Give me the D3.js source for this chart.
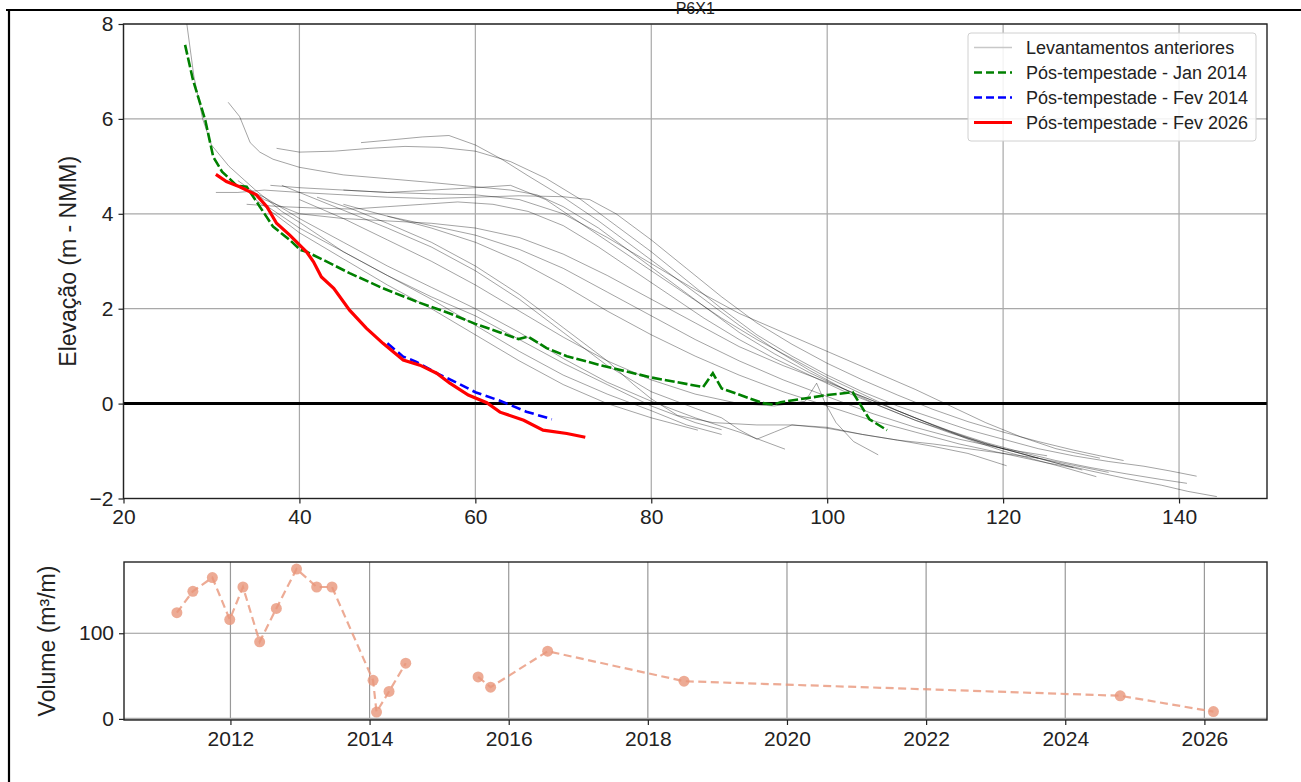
<!DOCTYPE html>
<html><head><meta charset="utf-8">
<script src="https://cdn.jsdelivr.net/npm/d3@7"></script>
<style>body{margin:0;background:#fff} text{font-family:"Liberation Sans",Arial,sans-serif;fill:#222}</style>
</head><body><svg id="c" width="1301" height="782"></svg>
<script>
// ---------- DATA ----------
const chartTitle = "P6X1";
const xTicksTop = [20, 40, 60, 80, 100, 120, 140];
const yTicksTop = [-2, 0, 2, 4, 6, 8];
const yLabelTop = "Elevação (m - NMM)";

// previous surveys (distance m, elevation m)
const prevProfiles = [
  [[47,5.5],[50,5.55],[54,5.62],[57,5.65],[60,5.45],[63,5.15],[66,4.8],[70,4.35],[74,3.85],[78,3.3],[82,2.75],[86,2.2],[90,1.65],[94,1.15],[98,0.7],[102,0.3],[106,-0.05],[110,-0.35],[114,-0.62],[118,-0.85],[122,-1.05],[126,-1.25],[130,-1.42],[134,-1.58],[138,-1.72],[141,-1.85],[144.3,-1.96]],
  [[37.4,5.38],[40,5.3],[44,5.32],[48,5.38],[52,5.42],[56,5.4],[60,5.32],[64,5.1],[68,4.75],[72,4.3],[76,3.75],[80,3.2],[84,2.6],[88,2.0],[92,1.45],[96,1.0],[100,0.6],[104,0.25],[108,-0.05],[112,-0.3],[116,-0.55],[120,-0.75],[124,-0.95],[128,-1.1],[132,-1.22],[136,-1.32],[139,-1.42],[142,-1.53]],
  [[31.9,6.35],[33.2,6.05],[34.4,5.5],[35.5,5.3],[37,5.15],[40,4.98],[45,4.82],[50,4.74],[55,4.66],[60,4.57],[64,4.5],[67,4.4],[70,4.15],[74,3.7],[78,3.15],[82,2.6],[86,2.05],[90,1.5],[94,1.05],[98,0.65],[102,0.3],[106,0.0],[110,-0.3],[114,-0.58],[118,-0.82],[122,-1.02],[126,-1.2],[130,-1.35],[134,-1.48],[138,-1.6],[140.9,-1.68]],
  [[30.5,4.45],[33,4.45],[36,4.5],[40,4.45],[45,4.4],[50,4.35],[55,4.32],[60,4.35],[65,4.38],[70,4.36],[73,4.3],[76,4.0],[80,3.45],[84,2.85],[88,2.25],[92,1.7],[96,1.25],[100,0.85],[104,0.5],[108,0.18],[112,-0.12],[116,-0.38],[120,-0.6],[124,-0.8],[128,-0.98],[131,-1.1],[133.7,-1.2]],
  [[36.7,4.6],[40,4.55],[45,4.5],[50,4.45],[55,4.5],[60,4.55],[64,4.6],[68,4.3],[72,3.8],[76,3.3],[80,2.8],[84,2.3],[88,1.8],[92,1.35],[96,0.95],[100,0.55],[104,0.2],[108,-0.15],[112,-0.45],[116,-0.75],[120,-1.0],[124,-1.2],[127,-1.35],[130.6,-1.54]],
  [[34,4.2],[38,4.15],[42,4.12],[46,4.1],[50,4.15],[54,4.2],[58,4.25],[62,4.2],[66,4.05],[70,3.75],[74,3.3],[78,2.8],[82,2.3],[86,1.8],[90,1.35],[94,0.95],[98,0.6],[102,0.25],[106,-0.05],[110,-0.35],[114,-0.6],[118,-0.85],[122,-1.05],[126,-1.25],[129,-1.4]],
  [[33,4.7],[36,4.3],[40,4.0],[45,3.9],[50,3.85],[55,3.8],[60,3.7],[65,3.5],[70,3.15],[75,2.7],[80,2.2],[85,1.7],[90,1.2],[95,0.8],[100,0.45],[104,0.15],[108,-0.15],[112,-0.45],[116,-0.72],[120,-0.95],[124,-1.15],[128,-1.3],[132,-1.45]],
  [[45,4.5],[50,4.45],[55,4.42],[60,4.4],[65,4.3],[70,4.0],[75,3.5],[80,2.95],[85,2.4],[90,1.9],[95,1.5],[100,1.1],[105,0.7],[110,0.3],[114,-0.05],[118,-0.4],[122,-0.7],[126,-0.95],[131,-1.15]],
  [[27.2,8.0],[28,6.9],[29,6.0],[30,5.45],[32,5.0],[35,4.5],[38,4.05],[40,3.82],[45,3.2],[50,2.7],[55,2.2],[60,1.65],[65,1.1],[70,0.6],[75,0.2],[80,-0.15],[84,-0.45],[88,-0.65]],
  [[33,4.6],[36,4.35],[40,3.9],[45,3.4],[50,2.9],[55,2.45],[60,2.0],[65,1.5],[70,0.95],[75,0.45],[80,0.05],[85,-0.3],[90,-0.6],[95.2,-0.96]],
  [[35,4.3],[40,3.6],[45,3.05],[50,2.5],[55,2.0],[60,1.45],[65,0.9],[70,0.4],[75,0.0],[80,-0.3],[85.3,-0.56]],
  [[38,4.6],[42,4.3],[46,4.0],[50,3.7],[55,3.3],[60,2.8],[65,2.2],[70,1.5],[75,0.8],[80,0.25],[85,-0.1],[88,-0.3],[90,-0.55],[92,-0.75],[94,-0.6],[96,-0.45],[100,-0.5],[104,-0.65],[108,-0.77],[112,-0.9],[116,-1.05],[120.4,-1.31]],
  [[40,4.3],[45,3.9],[50,3.45],[55,3.0],[60,2.5],[65,1.95],[70,1.4],[75,0.9],[80,0.5],[85,0.2],[90,0.0],[94,-0.05],[97.5,0.05],[98.8,0.43],[99.8,0.0],[101,-0.4],[103,-0.8],[105.8,-1.08]],
  [[36,4.2],[40,3.7],[45,3.2],[50,2.7],[55,2.25],[60,1.85],[65,1.35],[70,0.85],[75,0.4],[80,-0.05],[85,-0.4],[88,-0.55]],
  [[42,4.35],[46,4.1],[50,3.8],[55,3.4],[60,2.9],[65,2.3],[70,1.6],[75,0.9],[78,0.4],[80,0.1],[83,-0.25],[87,-0.4],[92,-0.45],[96,-0.45],[100,-0.52],[104,-0.65],[108,-0.77],[112,-0.85],[116,-0.95],[120,-1.05],[124,-1.15]],
  [[45,4.2],[50,3.95],[55,3.7],[60,3.4],[65,3.0],[70,2.5],[75,1.95],[80,1.45],[85,1.0],[90,0.6],[95,0.25],[100,-0.05],[105,-0.35],[110,-0.6],[115,-0.85],[120,-1.05],[125,-1.25],[128,-1.35]],
  [[50,3.95],[55,3.75],[60,3.55],[65,3.25],[70,2.85],[75,2.35],[80,1.85],[85,1.35],[90,0.9],[95,0.5],[100,0.15],[105,-0.2],[110,-0.5],[115,-0.75],[120,-0.95],[125,-1.1]]
];

const jan2014 = [[27,7.56],[27.9,6.82],[29.3,5.97],[30.2,5.2],[31.2,4.89],[32.9,4.59],[34.0,4.57],[35.5,4.15],[37.0,3.73],[38.9,3.45],[40.1,3.24],[40.8,3.2],[42.7,3.03],[45.7,2.75],[49.5,2.43],[53.3,2.15],[57.1,1.9],[60,1.68],[62.8,1.5],[64.9,1.36],[66,1.41],[68.1,1.17],[70.4,1.0],[74.2,0.81],[80,0.55],[85.9,0.35],[87,0.64],[88,0.32],[92.7,0.01],[93.9,-0.02],[94.7,0.03],[100,0.18],[102.9,0.24],[104.8,-0.33],[106.8,-0.56]];
const fev2014 = [[50,1.27],[51.8,0.99],[53.3,0.88],[55.6,0.64],[57.9,0.44],[60,0.24],[62.8,0.06],[65.8,-0.17],[68.7,-0.33]];
const fev2026 = [[30.5,4.83],[31.7,4.68],[33.2,4.57],[35.1,4.4],[36.3,4.15],[37.4,3.8],[38.9,3.55],[40.8,3.2],[41.6,2.99],[42.5,2.67],[43.9,2.43],[45.7,1.97],[47.6,1.59],[49.5,1.27],[51.8,0.92],[53.7,0.81],[55.6,0.64],[57.1,0.43],[59.2,0.18],[61.3,0.02],[62.8,-0.18],[65.5,-0.35],[67.7,-0.56],[70.4,-0.63],[72.5,-0.71]];

const legendLabels = ["Levantamentos anteriores","Pós-tempestade - Jan 2014","Pós-tempestade - Fev 2014","Pós-tempestade - Fev 2026"];

// volume time series (decimal year, m3/m); null = gap
const volDates  = [2011.23,2011.46,2011.74,2011.99,2012.18,2012.42,2012.66,2012.95,2013.24,2013.46,2014.05,2014.10,2014.28,2014.52,2015.0,2015.56,2015.74,2016.56,2018.52,2024.79,2026.13];
const volValues = [124,149,165,116,154,90,129,175,154,154,45,8,32,65,null,49,37,79,44,27,8.5];
const xTicksBottom = [2012,2014,2016,2018,2020,2022,2024,2026];
const yTicksBottom = [0,100];
const yLabelBottom = "Volume (m³/m)";

// ---------- DRAW ----------
const svg = d3.select("#c");
svg.append("rect").attr("width",1301).attr("height",782).attr("fill","#fff");

const TL=123.5, TR=1267, TT=24, TB=498.5;
const BL=124, BR=1267, BT=562, BB=720;
const FS = 21;

const x1 = d3.scaleLinear().domain([20,150]).range([TL,TR]);
const y1 = d3.scaleLinear().domain([-2,8]).range([TB,TT]);
const x2 = d3.scaleLinear().domain([2010.47,2026.9]).range([BL,BR]);
const y2 = d3.scaleLinear().domain([-1.3,183.2]).range([BB,BT]);

const gridCol = "#a8a8a8";
// top grid
const gTop = svg.append("g");
gTop.selectAll("line.vx").data(xTicksTop).join("line")
  .attr("x1",d=>x1(d)).attr("x2",d=>x1(d)).attr("y1",TT).attr("y2",TB)
  .attr("stroke",gridCol).attr("stroke-width",1.2);
gTop.selectAll("line.hy").data(yTicksTop).join("line")
  .attr("y1",d=>y1(d)).attr("y2",d=>y1(d)).attr("x1",TL).attr("x2",TR)
  .attr("stroke",gridCol).attr("stroke-width",1.2);

svg.append("clipPath").attr("id","clipTop").append("rect")
  .attr("x",TL).attr("y",TT).attr("width",TR-TL).attr("height",TB-TT);
const plotTop = svg.append("g").attr("clip-path","url(#clipTop)");
const line1 = d3.line().x(d=>x1(d[0])).y(d=>y1(d[1]));

plotTop.selectAll("path.prev").data(prevProfiles).join("path")
  .attr("d",line1).attr("fill","none").attr("stroke","#000")
  .attr("stroke-opacity",0.36).attr("stroke-width",1);

plotTop.append("line").attr("x1",TL).attr("x2",TR).attr("y1",y1(0)).attr("y2",y1(0))
  .attr("stroke","#000").attr("stroke-width",3);

plotTop.append("path").datum(jan2014).attr("d",line1).attr("fill","none")
  .attr("stroke","#008000").attr("stroke-width",2.6).attr("stroke-dasharray","10,3");
plotTop.append("path").datum(fev2014).attr("d",line1).attr("fill","none")
  .attr("stroke","#0000ff").attr("stroke-width",2.6).attr("stroke-dasharray","9.5,4.5");
plotTop.append("path").datum(fev2026).attr("d",line1).attr("fill","none")
  .attr("stroke","#ff0000").attr("stroke-width",3.2);

// top axes
const axX1 = svg.append("g").attr("transform",`translate(0,${TB})`)
  .call(d3.axisBottom(x1).tickValues(xTicksTop).tickFormat(d3.format("d")).tickSize(5).tickPadding(6));
const axY1 = svg.append("g").attr("transform",`translate(${TL},0)`)
  .call(d3.axisLeft(y1).tickValues(yTicksTop).tickFormat(d=>d<0?"\u2212"+Math.abs(d):d).tickSize(5).tickPadding(5));
[axX1,axY1].forEach(a=>{a.select(".domain").remove();
  a.selectAll("text").attr("font-size",FS).style("font-family",'"Liberation Sans",Arial,sans-serif').attr("fill","#222");
  a.selectAll("line").attr("stroke","#222").attr("stroke-width",1.2);});
svg.append("rect").attr("x",TL).attr("y",TT).attr("width",TR-TL).attr("height",TB-TT)
  .attr("fill","none").attr("stroke","#222").attr("stroke-width",1.4);

svg.append("text").attr("transform",`translate(68,${(TT+TB)/2}) rotate(-90)`)
  .attr("text-anchor","middle").attr("dominant-baseline","central").attr("font-size",23).text(yLabelTop);

// legend
const lg = svg.append("g");
lg.append("rect").attr("x",968).attr("y",33).attr("width",288).attr("height",108).attr("rx",3)
  .attr("fill","#fff").attr("fill-opacity",0.85).attr("stroke","#d0d0d0").attr("stroke-width",1);
const legStyles = [
  {c:"#c8c8c8", w:1.3, dash:null},
  {c:"#008000", w:2.6, dash:"8,4"},
  {c:"#0000ff", w:2.6, dash:"8,4"},
  {c:"#ff0000", w:3.2, dash:null}
];
legendLabels.forEach((t,i)=>{
  const yy = 47.5 + i*25;
  const s = legStyles[i];
  const l = lg.append("line").attr("x1",974).attr("x2",1012).attr("y1",yy).attr("y2",yy)
    .attr("stroke",s.c).attr("stroke-width",s.w);
  if(s.dash) l.attr("stroke-dasharray",s.dash);
  lg.append("text").attr("x",1026).attr("y",yy).attr("dominant-baseline","central")
    .attr("font-size",18).text(t);
});

// bottom grid
const gB = svg.append("g");
gB.selectAll("line.vx").data(xTicksBottom).join("line")
  .attr("x1",d=>x2(d)).attr("x2",d=>x2(d)).attr("y1",BT).attr("y2",BB)
  .attr("stroke","#999").attr("stroke-width",1.2);
gB.selectAll("line.hy").data(yTicksBottom).join("line")
  .attr("y1",d=>y2(d)).attr("y2",d=>y2(d)).attr("x1",BL).attr("x2",BR)
  .attr("stroke","#999").attr("stroke-width",1.2);
svg.append("line").attr("x1",BL).attr("x2",BR).attr("y1",y2(0)).attr("y2",y2(0))
  .attr("stroke","#aaa").attr("stroke-width",2.2);

const vol = volDates.map((d,i)=>({t:d,v:volValues[i]}));
const line2 = d3.line().defined(d=>d.v!==null).x(d=>x2(d.t)).y(d=>y2(d.v));
const salmon = "#e9967a";
svg.append("path").datum(vol).attr("d",line2).attr("fill","none")
  .attr("stroke",salmon).attr("stroke-opacity",0.8).attr("stroke-width",2.2).attr("stroke-dasharray","8,4.5");
svg.selectAll("circle.v").data(vol.filter(d=>d.v!==null)).join("circle")
  .attr("cx",d=>x2(d.t)).attr("cy",d=>y2(d.v)).attr("r",5.5)
  .attr("fill",salmon).attr("fill-opacity",0.8);

const axX2 = svg.append("g").attr("transform",`translate(0,${BB})`)
  .call(d3.axisBottom(x2).tickValues(xTicksBottom).tickFormat(d3.format("d")).tickSize(5).tickPadding(6));
const axY2 = svg.append("g").attr("transform",`translate(${BL},0)`)
  .call(d3.axisLeft(y2).tickValues(yTicksBottom).tickFormat(d3.format("d")).tickSize(5).tickPadding(5));
[axX2,axY2].forEach(a=>{a.select(".domain").remove();
  a.selectAll("text").attr("font-size",FS).style("font-family",'"Liberation Sans",Arial,sans-serif').attr("fill","#222");
  a.selectAll("line").attr("stroke","#222").attr("stroke-width",1.2);});
svg.append("rect").attr("x",BL).attr("y",BT).attr("width",BR-BL).attr("height",BB-BT)
  .attr("fill","none").attr("stroke","#222").attr("stroke-width",1.4);
svg.append("text").attr("transform",`translate(47,${(BT+BB)/2}) rotate(-90)`)
  .attr("text-anchor","middle").attr("dominant-baseline","central").attr("font-size",23).text(yLabelBottom);

// outer frame (top and left edges) and title
svg.append("line").attr("x1",6).attr("x2",1301).attr("y1",10).attr("y2",10).attr("stroke","#000").attr("stroke-width",2.2);
svg.append("line").attr("x1",9).attr("x2",9).attr("y1",9).attr("y2",782).attr("stroke","#000").attr("stroke-width",2.2);
svg.append("text").attr("x",(TL+TR)/2).attr("y",14).attr("text-anchor","middle").attr("font-size",16).text(chartTitle);
</script>
</body></html>
